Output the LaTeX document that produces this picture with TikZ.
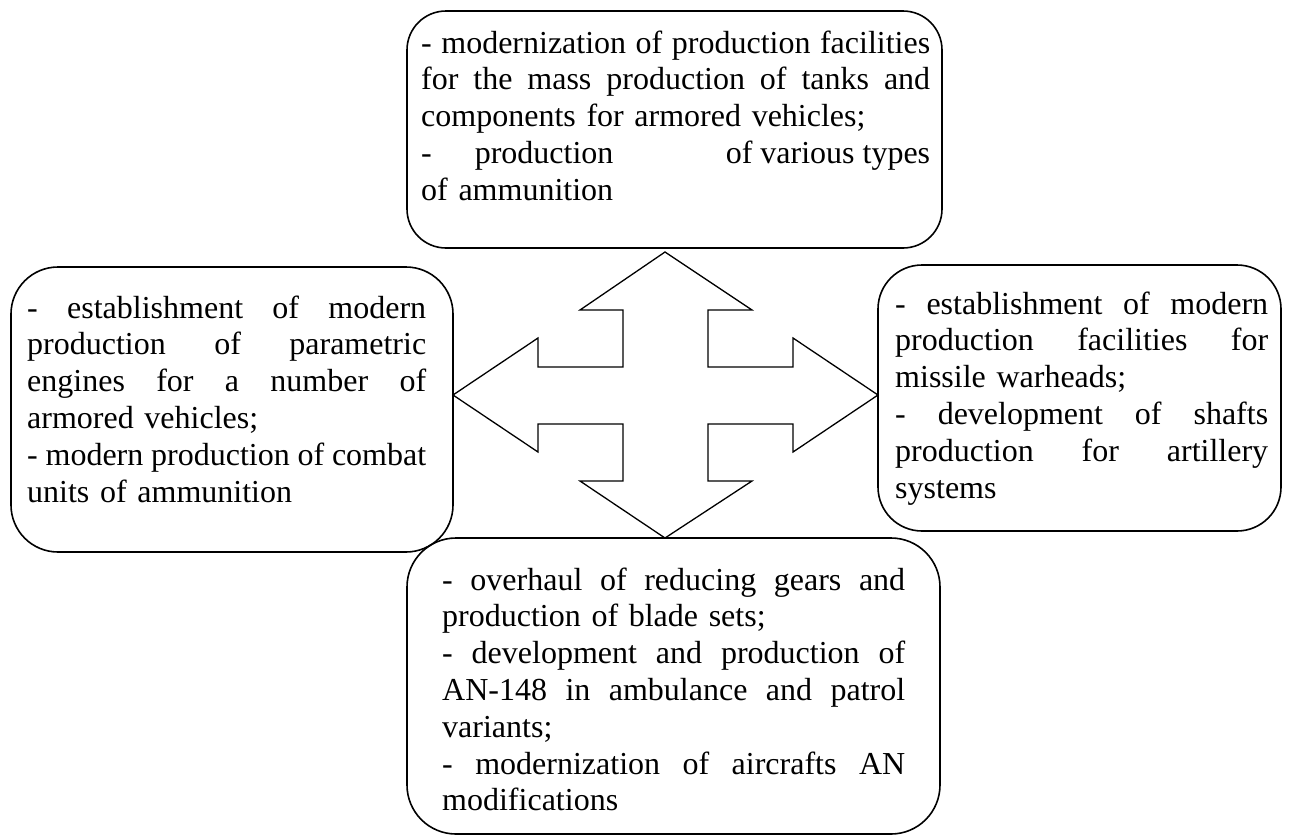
\documentclass[tikz,border=0pt]{standalone}
\usepackage{fontspec}
\setmainfont{Liberation Serif}
\newcommand{\jl}[1]{\leavevmode\hbox to\hsize{\spaceskip=0.25em plus 1fil minus 0.05em\relax #1}}

\begin{document}
\begin{tikzpicture}[
  x=1pt, y=-1pt,
  box/.style={rectangle, draw=black, line width=1.6pt, inner sep=0pt},
  txt/.style={anchor=north west, inner sep=0pt, align=left,
    font=\fontsize{32}{36.8}\selectfont},
  cross/.style={draw=black, line width=1.3pt, line join=miter}
]
\useasboundingbox (0,0) rectangle (1291,839);

\node[box, minimum width=535pt, minimum height=237pt, rounded corners=39pt] (topbox) at (674.5,129.5) {};
\node[box, minimum width=442pt, minimum height=285pt, rounded corners=47pt] (leftbox) at (232,409.5) {};
\node[box, minimum width=403pt, minimum height=266pt, rounded corners=44pt] (rightbox) at (1079.5,398) {};
\node[box, minimum width=533pt, minimum height=296pt, rounded corners=49pt] (bottombox) at (673.5,686) {};

\node[txt, text width=509pt] (toptext) at (421,27.2) {\strut\jl{- modernization of production facilities}\\
  \jl{for the mass production of tanks and}\\
  components for armored vehicles;\\
  \jl{-\hspace{43pt}production\hfill of various types}\\
  of ammunition};

\node[txt, text width=399pt] (lefttext) at (27,292.2) {\strut\jl{- establishment of modern}\\
  \jl{production of parametric}\\
  \jl{engines for a number of}\\
  armored vehicles;\\
  \jl{- modern production of combat}\\
  units of ammunition};

\node[txt, text width=373pt] (righttext) at (895,288.2) {\strut\jl{- establishment of modern}\\
  \jl{production facilities for}\\
  missile warheads;\\
  \jl{- development of shafts}\\
  \jl{production for artillery}\\
  systems};

\node[txt, text width=463pt] (bottomtext) at (442,564.2) {\strut\jl{- overhaul of reducing gears and}\\
  production of blade sets;\\
  \jl{- development and production of}\\
  \jl{AN-148 in ambulance and patrol}\\
  variants;\\
  \jl{- modernization of aircrafts AN}\\
  modifications};

\draw[cross] (665,252) -- (752,310) -- (708,310) -- (708,367) -- (793,367) -- (793,338)
  -- (878,395) -- (793,452) -- (793,424) -- (708,424) -- (708,481) -- (752,481)
  -- (665,538) -- (580,481) -- (623,481) -- (623,424) -- (538,424) -- (538,452)
  -- (453,395) -- (538,338) -- (538,367) -- (623,367) -- (623,310) -- (580,310) -- cycle;
\end{tikzpicture}
\end{document}
